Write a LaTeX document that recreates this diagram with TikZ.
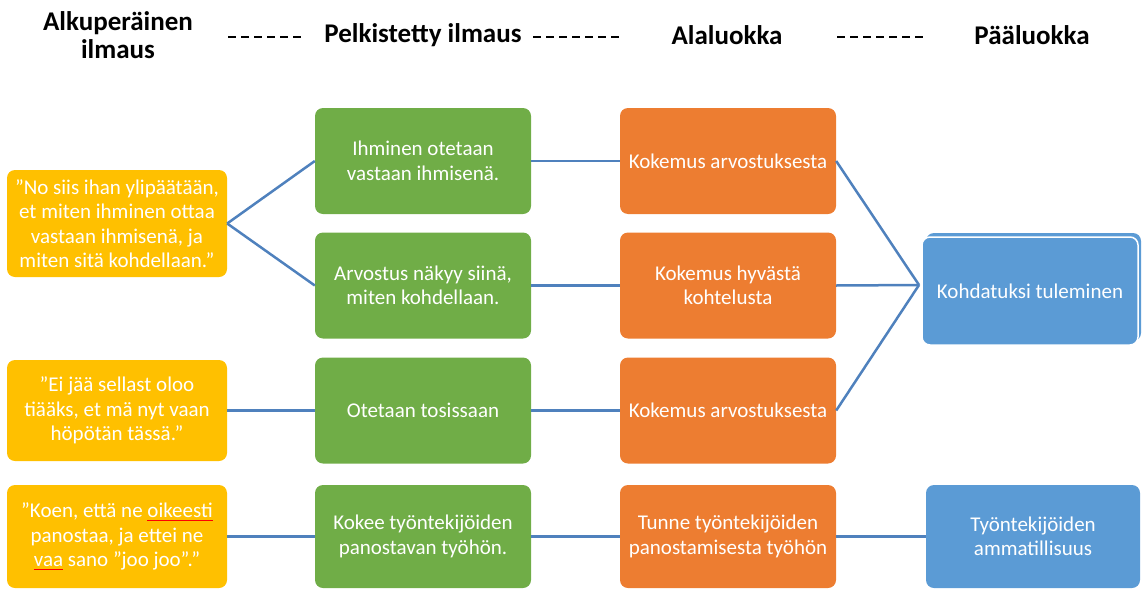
\documentclass[tikz,border=0pt]{standalone}
\usepackage{fontspec}
\setmainfont{Carlito}
\definecolor{cyel}{HTML}{FFC000}
\definecolor{cgrn}{HTML}{70AD47}
\definecolor{corg}{HTML}{ED7D31}
\definecolor{cblu}{HTML}{5B9BD5}
\definecolor{cline}{HTML}{4F81BD}
\newcommand\spellul[1]{\setbox0\hbox{#1}\rlap{\color{red}\rule[-3pt]{\wd0}{0.7pt}}\box0\relax}
\tikzset{
  boxbase/.style={rounded corners=8pt, text=white, align=center, inner sep=0pt,
    minimum width=216pt, minimum height=106pt, font=\fontsize{21}{24.5}\selectfont},
  ybox/.style={boxbase, fill=cyel, minimum width=220pt},
  gbox/.style={boxbase, fill=cgrn},
  obox/.style={boxbase, fill=corg},
  bbox/.style={boxbase, fill=cblu},
  head/.style={font=\fontsize{27}{28}\selectfont\bfseries, align=center, text=black},
  conn/.style={draw=cline, line width=2.5pt},
  hdash/.style={draw=black, line width=1.2pt, dash pattern=on 8pt off 5pt}
}
\begin{document}
\begin{tikzpicture}[x=1pt,y=-1pt]
\useasboundingbox (0,0) rectangle (1142,589);
% headers
\node[head] (h1) at (118,35) {Alkuperäinen\\ilmaus};
\node[head] (h2) at (423,35) {Pelkistetty ilmaus};
\node[head] (h3) at (727,35) {Alaluokka};
\node[head] (h4) at (1032,35) {Pääluokka};
\coordinate (d1a) at (228,37); \coordinate (d1b) at (303,37);
\coordinate (d2a) at (533,37); \coordinate (d2b) at (619,37);
\coordinate (d3a) at (837,37); \coordinate (d3b) at (923,37);
\draw[hdash] (d1a) -- (d1b);
\draw[hdash] (d2a) -- (d2b);
\draw[hdash] (d3a) -- (d3b);
% yellow
\node[ybox, minimum height=107pt] (y1) at (117,223.5) {”No siis ihan ylipäätään,\\et miten ihminen ottaa\\vastaan ihmisenä, ja\\miten sitä kohdellaan.”};
\node[ybox, minimum height=101pt] (y2) at (117,410.5) {”Ei jää sellast oloo\\tiääks, et mä nyt vaan\\höpötän tässä.”};
\node[ybox, minimum height=103pt] (y3) at (117,536.5) {”Koen, että ne \spellul{oikeesti}\\panostaa, ja ettei ne\\\spellul{vaa} sano ”joo joo”.”};
% green
\node[gbox] (g1) at (423,161) {Ihminen otetaan\\vastaan ihmisenä.};
\node[gbox] (g2) at (423,285.5) {Arvostus näkyy siinä,\\miten kohdellaan.};
\node[gbox] (g3) at (423,410.5) {Otetaan tosissaan};
\node[gbox, minimum height=103pt] (g4) at (423,536.5) {Kokee työntekijöiden\\panostavan työhön.};
% orange
\node[obox] (o1) at (728,161) {Kokemus arvostuksesta};
\node[obox] (o2) at (728,285.5) {Kokemus hyvästä\\kohtelusta};
\node[obox] (o3) at (728,410.5) {Kokemus arvostuksesta};
\node[obox, minimum height=103pt] (o4) at (728,536.5) {Tunne työntekijöiden\\panostamisesta työhön};
% blue
\fill[cblu, rounded corners=8pt] (926,233) rectangle (1141,341);
\node[bbox, draw=white, line width=1.5pt, minimum height=108pt] (b1) at (1030,291) {Kohdatuksi tuleminen};
\node[bbox, minimum width=214pt, minimum height=103pt] (b2) at (1033,536.5) {Työntekijöiden\\ammatillisuus};
\coordinate (m) at (919,285);
% connectors
\draw[conn] (y1.east) -- (g1.west);
\draw[conn] (y1.east) -- (g2.west);
\draw[conn] (y2.east) -- (g3.west);
\draw[conn] (y3.east) -- (g4.west);
\draw[conn] (g1.east) -- (o1.west);
\draw[conn] (g2.east) -- (o2.west);
\draw[conn] (g3.east) -- (o3.west);
\draw[conn] (g4.east) -- (o4.west);
\draw[conn] (o1.east) -- (m);
\draw[conn] (o2.east) -- (m);
\draw[conn] (o3.east) -- (m);
\draw[conn] (o4.east) -- (b2.west);
\end{tikzpicture}
\end{document}
